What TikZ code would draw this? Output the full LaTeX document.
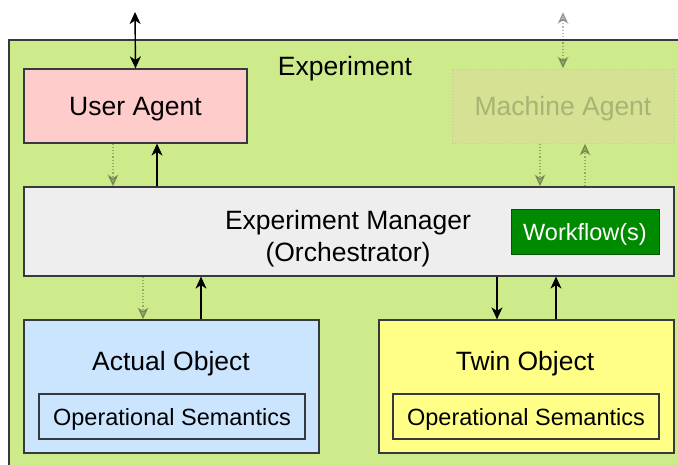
\documentclass[tikz,border=0pt]{standalone}
\usepackage{fontspec}
\setmainfont{Liberation Sans}
\usepackage{xcolor}
\usepackage{tikz}
\usetikzlibrary{arrows.meta}

\definecolor{expgreen}{HTML}{CDEB8B}
\definecolor{edgegray}{HTML}{36393D}
\definecolor{userred}{HTML}{FFCCCC}
\definecolor{machfill}{RGB}{214,225,147}
\definecolor{machtext}{RGB}{166,180,116}
\definecolor{managgray}{HTML}{EEEEEE}
\definecolor{flowgreen}{HTML}{008A00}
\definecolor{flowedge}{HTML}{005700}
\definecolor{actblue}{HTML}{CCE5FF}
\definecolor{twinyel}{HTML}{FFFF88}

\begin{document}
\begin{tikzpicture}
[x=1pt,y=-1pt,
>={Stealth[length=12pt,width=11pt,inset=3.5pt]},
bigtxt/.style={font=\fontsize{26.5}{32}\selectfont,text depth=0pt},
smalltxt/.style={font=\fontsize{23.5}{28}\selectfont,text depth=0pt},
agen/.style={rectangle,draw=edgegray,fill=userred,line width=1.2pt,minimum width=223pt,minimum height=74pt,bigtxt},
mach/.style={rectangle,draw=machtext!70,dotted,fill=machfill,text=machtext,line width=1pt,minimum width=222pt,minimum height=74pt,bigtxt},
mana/.style={rectangle,draw=edgegray,fill=managgray,line width=1.2pt,minimum width=650pt,minimum height=89pt},
flow/.style={rectangle,draw=flowedge,fill=flowgreen,text=white,line width=1pt,minimum width=148pt,minimum height=45pt,smalltxt},
objt/.style={rectangle,draw=edgegray,line width=1.2pt,minimum width=295pt,minimum height=133pt},
opsm/.style={rectangle,draw=edgegray,line width=1.2pt,minimum width=266pt,minimum height=45pt,smalltxt},
solarr/.style={line width=1.4pt,->},
dotarr/.style={line width=1.2pt,dotted,black,opacity=0.28,->}]
\useasboundingbox (0,0) rectangle (678,464);
\clip (0,0) rectangle (678,464);

% experiment frame
\draw[edgegray,fill=expgreen,line width=1.2pt] (9,40) rectangle (700,490);
\node at (345,66) [bigtxt] (expl) {Experiment};

% agents
\node at (135.5,106) [agen] (ua) {User Agent};
\node at (563,106) [mach] (ma) {Machine Agent};
\coordinate (uatop) at (135,12);
\coordinate (matop) at (563,12);

% manager
\node at (349,231.5) [mana] (em) {};
\node at (348,236) [bigtxt,align=center] (emtxt) {Experiment Manager\\(Orchestrator)};
\node at (585,231.5) [flow] (wf) {Workflow(s)};

% objects
\node at (171.5,386.5) [objt,fill=actblue] (ao) {};
\node at (171,361) [bigtxt] (aotxt) {Actual Object};
\node at (172,416.5) [opsm,fill=actblue] (aos) {Operational Semantics};
\node at (526.5,386.5) [objt,fill=twinyel] (to) {};
\node at (525,361) [bigtxt] (totxt) {Twin Object};
\node at (526,416.5) [opsm,fill=twinyel] (tos) {Operational Semantics};

% connectors
\draw[solarr,<->] (uatop) -- (ua.north);
\draw[dotarr,<->] (matop) -- (ma.north);
\draw[dotarr] ([xshift=-22.5pt]ua.south) -- ([xshift=-22.5pt]ua.south |- em.north);
\draw[solarr] ([xshift=21.5pt]ua.south |- em.north) -- ([xshift=21.5pt]ua.south);
\draw[dotarr] ([xshift=-23pt]ma.south) -- ([xshift=-23pt]ma.south |- em.north);
\draw[dotarr] ([xshift=22pt]ma.south |- em.north) -- ([xshift=22pt]ma.south);
\draw[dotarr] ([xshift=-28.5pt]ao.north |- em.south) -- ([xshift=-28.5pt]ao.north);
\draw[solarr] ([xshift=29.5pt]ao.north) -- ([xshift=29.5pt]ao.north |- em.south);
\draw[solarr] ([xshift=-29.5pt]to.north |- em.south) -- ([xshift=-29.5pt]to.north);
\draw[solarr] ([xshift=29.5pt]to.north) -- ([xshift=29.5pt]to.north |- em.south);
\end{tikzpicture}
\end{document}
